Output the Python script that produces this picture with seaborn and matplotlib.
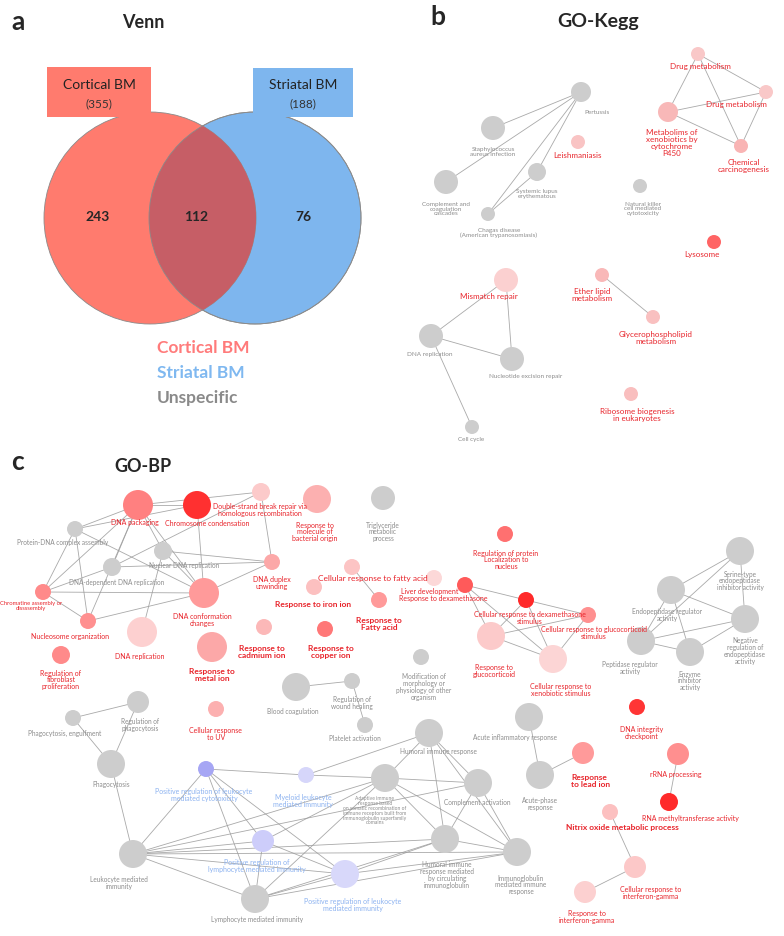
import pandas as pd
import matplotlib
matplotlib.use("Agg")
import matplotlib.pyplot as plt
from matplotlib.patches import Circle, Rectangle
import seaborn as sns

sns.set_style("white")
plt.rcParams['font.family'] = ['Lato', 'DejaVu Sans']

# ---- colours
RED_TXT = "#E8242B"
GRAY_TXT = "#8C8C8C"
BLUE_TXT = "#8CB2F0"
GRAY_NODE = "#CDCDCD"
TXT = {"c": RED_TXT, "u": GRAY_TXT, "s": BLUE_TXT}

# ---- panel a: Venn counts
venn_sets = ["Cortical BM", "Striatal BM"]
venn_totals = [355, 188]
venn_only = [243, 76]
venn_shared = 112
legend_labels = ["Cortical BM", "Striatal BM", "Unspecific"]

# ---- panel b: GO-Kegg network
kegg_names = ["Pertussis", "Staphylococcus\naureus infection", "Leishmaniasis",
              "Complement and\ncoagulation\ncascades", "Systemic lupus\nerythematous",
              "Chagas disease\n(American trypanosomiasis)",
              "Natural killer\ncell mediated\ncytotoxicity", "Drug metabolism",
              "Drug metabolism", "Metabolims of\nxenobiotics by\ncytochrome\nP450",
              "Chemical\ncarcinogenesis", "Lysosome", "Mismatch repair",
              "Ether lipid\nmetabolism", "Glycerophospholipid\nmetabolism",
              "DNA replication", "Nucleotide excision repair", "Cell cycle",
              "Ribosome biogenesis\nin eukaryotes"]
kegg_group = ["u", "u", "c", "u", "u", "u", "u", "c", "c", "c", "c", "c", "c",
              "c", "c", "u", "u", "u", "c"]
kegg_x = [581, 493, 578, 446, 537, 488, 640, 698, 766, 668, 741, 714, 506, 602, 653, 431, 512, 472, 631]
kegg_y = [93, 129, 143, 183, 173, 215, 187, 55, 93, 113, 147, 243, 281, 276, 318, 337, 360, 428, 395]
kegg_r = [10, 12, 7, 12, 9, 7, 7, 7, 7, 10, 7, 7, 12, 7, 7, 12, 12, 7, 7]
kegg_fill = [GRAY_NODE, GRAY_NODE, "#F9C4C4", GRAY_NODE, GRAY_NODE, GRAY_NODE, GRAY_NODE,
             "#F9C8C8", "#F9C8C8", "#F8B8B8", "#F9B4B4", "#FF6464", "#FBD0D0",
             "#F9B8B8", "#F9C0C0", GRAY_NODE, GRAY_NODE, GRAY_NODE, "#F9BEBE"]
kegg_lx = [597, 493, 578, 446, 537, 499, 643, 700, 736, 672, 744, 702, 489, 592, 656, 430, 526, 471, 637]
kegg_ly = [112, 152, 155, 209, 194, 233, 209, 67, 105, 143, 166, 255, 297, 295, 338, 355, 377, 440, 415]
kegg_edges = [(0, 1), (0, 3), (0, 4), (0, 5), (4, 5), (7, 9), (7, 8), (7, 10), (9, 8),
              (9, 10), (8, 10), (12, 15), (12, 16), (15, 16), (15, 17), (13, 14)]

# ---- panel c: GO-BP network
bp_names = ["DNA packaging", "Chromosome condensation",
            "Double-strand break repair via\nhomologous recombination",
            "Response to\nmolecule of\nbacterial origin", "Triglyceride\nmetabolic\nprocess",
            "Protein-DNA complex assembly", "Nuclear DNA replication",
            "DNA-dependent DNA replication", "DNA duplex\nunwinding",
            "Chromatine assembly or\ndissssembly", "DNA conformation\nchanges",
            "Nucleosome organization", "DNA replication",
            "Regulation of\nfibroblast\nproliferation", "Response to\nmetal ion",
            "Response to\ncadmium ion", "Response to\ncopper ion", "Response to iron ion",
            "Cellular response to fatty acid", "Response to\nFatty acid",
            "Liver development", "Response to dexamethasone",
            "Regulation of protein\nLocalization to\nnucleus",
            "Cellular response to dexamethasone\nstimulus",
            "Cellular response to glucocorticoid\nstimulus",
            "Response to\nglucocorticoid", "Cellular response to\nxenobiotic stimulus",
            "Modification of\nmorphology or\nphysiology of other\norganism",
            "Serine-type\nendopeptidase\ninhibitor activity",
            "Endopeptidase regulator\nactivity",
            "Negative\nregulation of\nendopeptidase\nactivity",
            "Peptidase regulator\nactivity", "Enzyme\ninhibitor\nactivity",
            "DNA integrity\ncheckpoint", "rRNA processing", "RNA methyltransferase activity",
            "Response\nto lead ion", "Acute-phase\nresponse", "Acute inflammatory response",
            "Nitrix oxide metabolic process", "Cellular response to\ninterferon-gamma",
            "Response to\ninterferon-gamma", "Humoral immune response",
            "Complement activation",
            "Adaptive immune\nresponse based\non somatic recombination of\nimmune receptors built from\nImmunoglobulin superfamily\ndomains",
            "Humoral immune\nresponse mediated\nby circulating\nimmunoglobulin",
            "Immunoglobulin\nmediated immune\nresponse", "Blood coagulation",
            "Regulation of\nwound healing", "Platelet activation",
            "Cellular response\nto UV", "Phagocytosis, engulfment",
            "Regulation of\nphagocytosis", "Phagocytosis",
            "Positive regulation of leukocyte\nmediated cytotoxicity",
            "Myeloid leukocyte\nmediated immunity",
            "Positive regulation of\nlymphocyte mediated immunity",
            "Positive regulation of leukocyte\nmediated immunity",
            "Leukocyte mediated\nimmunity", "Lymphocyte mediated immunity"]
bp_group = ["c", "c", "c", "c", "u", "u", "u", "u", "c", "c", "c", "c", "c", "c", "c",
            "c", "c", "c", "c", "c", "c", "c", "c", "c", "c", "c", "c", "u", "u", "u",
            "u", "u", "u", "c", "c", "c", "c", "u", "u", "c", "c", "c", "u", "u", "u",
            "u", "u", "u", "u", "u", "c", "u", "u", "u", "s", "s", "s", "s", "u", "u"]
bp_bold = {14, 15, 16, 17, 19, 36, 39}
bp_x = [138, 197, 261, 317, 383, 75, 163, 112, 272, 43, 204, 88, 142, 61, 212, 264, 325,
        314, 352, 379, 434, 465, 505, 526, 588, 491, 553, 421, 740, 671, 745, 641, 690,
        637, 678, 669, 583, 540, 529, 610, 635, 585, 429, 478, 385, 445, 517, 296, 352,
        365, 216, 73, 138, 111, 206, 306, 263, 345, 133, 255]
bp_y = [506, 506, 493, 500, 499, 530, 552, 568, 563, 593, 594, 622, 633, 656, 648, 628,
        630, 588, 568, 601, 579, 586, 535, 601, 616, 637, 660, 658, 552, 591, 620, 642,
        653, 708, 755, 803, 754, 776, 718, 813, 868, 893, 734, 784, 779, 840, 853, 688,
        682, 726, 710, 719, 703, 765, 770, 776, 842, 875, 855, 900]
bp_r = [15, 14, 9, 14, 12, 8, 9, 9, 8, 8, 15, 8, 15, 9, 15, 8, 8, 8, 8, 8, 8, 8, 8, 8,
        8, 14, 14, 8, 14, 14, 14, 14, 14, 8, 11, 9, 11, 14, 14, 8, 11, 11, 14, 14, 14,
        14, 14, 14, 8, 8, 8, 8, 11, 14, 8, 8, 11, 14, 14, 14]
bp_fill = ["#FF8080", "#FF3030", "#FCCACA", "#FCB0B0", GRAY_NODE, GRAY_NODE, GRAY_NODE,
           GRAY_NODE, "#FCA8A8", "#FF8A8A", "#FF9A9A", "#FF9090", "#FDD0D0", "#FF8A8A",
           "#FCA8A8", "#FCB8B8", "#FF7878", "#FCC0C0", "#FCC4C4", "#FF9A9A", "#FCD8D8",
           "#FF5A5A", "#FF7070", "#FF2A2A", "#FF9090", "#FCCACA", "#FCD5D5", GRAY_NODE,
           GRAY_NODE, GRAY_NODE, GRAY_NODE, GRAY_NODE, GRAY_NODE, "#FF3535", "#FF8F8F",
           "#FF2A2A", "#FF9A9A", GRAY_NODE, GRAY_NODE, "#FCC0C0", "#FCC8C8", "#FCD0D0",
           GRAY_NODE, GRAY_NODE, GRAY_NODE, GRAY_NODE, GRAY_NODE, GRAY_NODE, GRAY_NODE,
           GRAY_NODE, "#FCB0B0", GRAY_NODE, GRAY_NODE, GRAY_NODE, "#A6A6F4", "#D6D6FA",
           "#CDCDFA", "#D8D8FA", GRAY_NODE, GRAY_NODE]
bp_lx = [135, 207, 260, 315, 383, 63, 184, 117, 272, 31, 202, 70, 140, 61, 212, 262, 331,
         313, 373, 379, 430, 443, 506, 530, 594, 494, 561, 424, 740, 667, 745, 630, 690,
         642, 676, 690, 571, 540, 515, 622, 651, 587, 438, 477, 375, 447, 521, 293, 352,
         355, 216, 65, 140, 111, 204, 303, 257, 353, 119, 257]
bp_ly = [523, 524, 510, 532, 532, 543, 566, 583, 583, 606, 620, 637, 657, 680, 675, 652,
         652, 605, 579, 624, 592, 599, 560, 618, 633, 671, 690, 687, 581, 615, 651, 668,
         681, 733, 775, 819, 781, 804, 738, 828, 893, 917, 752, 803, 811, 875, 885, 712,
         703, 739, 734, 733, 725, 785, 795, 801, 866, 905, 883, 920]
bp_edges = [(0, 1), (0, 5), (0, 6), (0, 7), (0, 10), (0, 9), (0, 11), (1, 10), (1, 5),
            (2, 7), (2, 8), (2, 0), (5, 11), (5, 9), (5, 10), (6, 10), (6, 8), (7, 8),
            (9, 11), (9, 10), (11, 10), (7, 9), (12, 6), (8, 10),
            (18, 19),
            (21, 23), (21, 25), (21, 26), (23, 24), (23, 25), (23, 26), (24, 25),
            (24, 26), (25, 26),
            (28, 29), (28, 30), (29, 30), (29, 31), (29, 32), (30, 31), (30, 32),
            (31, 32), (28, 31),
            (47, 48), (48, 49), (51, 52), (51, 53), (52, 53), (53, 58),
            (58, 54), (58, 59), (58, 56), (58, 44), (58, 45), (58, 43), (58, 57),
            (58, 46), (54, 55), (54, 56), (54, 59), (54, 57), (55, 44), (55, 42),
            (59, 57), (59, 44), (59, 45), (59, 46), (59, 56), (56, 57), (56, 44),
            (44, 42), (44, 43), (44, 45), (44, 46), (42, 43), (42, 45), (42, 46),
            (43, 45), (43, 46), (45, 46), (45, 57), (57, 46),
            (38, 37), (37, 36), (34, 35), (39, 40), (40, 41)]


def draw_network(ax, xs, ys, rs, fills, edges, tag):
    for a, b in edges:
        ax.plot([xs[a], xs[b]], [ys[a], ys[b]], color="#9A9A9A", lw=0.6,
                alpha=0.85, zorder=1)
    ids = [f"{tag}{i}" for i in range(len(xs))]
    df = pd.DataFrame({"id": ids, "x": xs, "y": ys})
    # radius in pixels -> marker area in points^2 (dpi 100)
    sizes = {k: (2 * r * 0.72) ** 2 for k, r in zip(ids, rs)}
    sns.scatterplot(data=df, x="x", y="y", hue="id", size="id",
                    palette=dict(zip(ids, fills)), sizes=sizes, linewidth=0,
                    legend=False, ax=ax, zorder=3)


fig = plt.figure(figsize=(7.84, 9.37), dpi=100)
ax = fig.add_axes([0, 0, 1, 1])
ax.set_xlim(0, 784)
ax.set_ylim(937, 0)
ax.axis("off")

# ---- panel a
ax.text(18, 22, "a", fontsize=19, fontweight="bold", ha="center", va="center")
ax.text(143, 22, "Venn", fontsize=13, fontweight="bold", ha="center", va="center")
left = Circle((150, 219), 106, facecolor="#FF7B6E", edgecolor="#8A8A8A", lw=0.6, zorder=1)
right = Circle((255, 219), 106, facecolor="#7EB6EE", edgecolor="#8A8A8A", lw=0.6, zorder=1)
ax.add_patch(right)
ax.add_patch(left)
inter = Circle((255, 219), 106, facecolor="#C65E66", edgecolor="none", zorder=2)
ax.add_patch(inter)
inter.set_clip_path(left)
ax.add_patch(Circle((255, 219), 106, facecolor="none", edgecolor="#8A8A8A", lw=0.6, zorder=2))
ax.add_patch(Rectangle((47, 68), 104, 50, facecolor="#FF7B6E", edgecolor="none", zorder=3))
ax.add_patch(Rectangle((253, 69), 100, 49, facecolor="#7EB6EE", edgecolor="none", zorder=3))
for cx, name, tot in zip([99, 303], venn_sets, venn_totals):
    ax.text(cx, 85, name, fontsize=10, ha="center", va="center", zorder=4, color="#222222")
    ax.text(cx, 104, f"({tot})", fontsize=8.5, ha="center", va="center", zorder=4, color="#333333")
for cx, val in zip([98, 196, 303], [venn_only[0], venn_shared, venn_only[1]]):
    ax.text(cx, 217, str(val), fontsize=10, fontweight="bold", ha="center", va="center", zorder=4)
for ly, lab, col in zip([348, 373, 398], legend_labels, ["#FF7B7B", "#7FB8F0", "#8A8A8A"]):
    ax.text(157, ly, lab, fontsize=12.5, fontweight="bold", color=col, ha="left", va="center")

# ---- panel b
ax.text(438, 17, "b", fontsize=19, fontweight="bold", ha="center", va="center")
ax.text(598, 22, "GO-Kegg", fontsize=14, fontweight="bold", ha="center", va="center")
draw_network(ax, kegg_x, kegg_y, kegg_r, kegg_fill, kegg_edges, "k")
for lab, g, lx, ly in zip(kegg_names, kegg_group, kegg_lx, kegg_ly):
    fs = 5.8 if g == "c" else 4.6
    ax.text(lx, ly, lab, fontsize=fs, color=TXT[g], ha="center", va="center",
            linespacing=0.95, zorder=4)

# ---- panel c
ax.text(18, 462, "c", fontsize=19, fontweight="bold", ha="center", va="center")
ax.text(143, 467, "GO-BP", fontsize=13, fontweight="bold", ha="center", va="center")
draw_network(ax, bp_x, bp_y, bp_r, bp_fill, bp_edges, "p")
for i, (lab, g, lx, ly) in enumerate(zip(bp_names, bp_group, bp_lx, bp_ly)):
    if i in bp_bold:
        fs, fw = 6.0, "bold"
    elif i == 18:
        fs, fw = 6.0, "normal"
    elif i == 44:
        fs, fw = 3.6, "normal"
    elif i == 9:
        fs, fw = 4.2, "normal"
    elif g == "u":
        fs, fw = 4.7, "normal"
    else:
        fs, fw = 5.0, "normal"
    ha = "left" if i == 36 else "center"
    ax.text(lx, ly, lab, fontsize=fs, fontweight=fw, color=TXT[g], ha=ha, va="center",
            multialignment="left" if i == 36 else "center", linespacing=0.95, zorder=4)

fig.savefig("out.png", dpi=100)
